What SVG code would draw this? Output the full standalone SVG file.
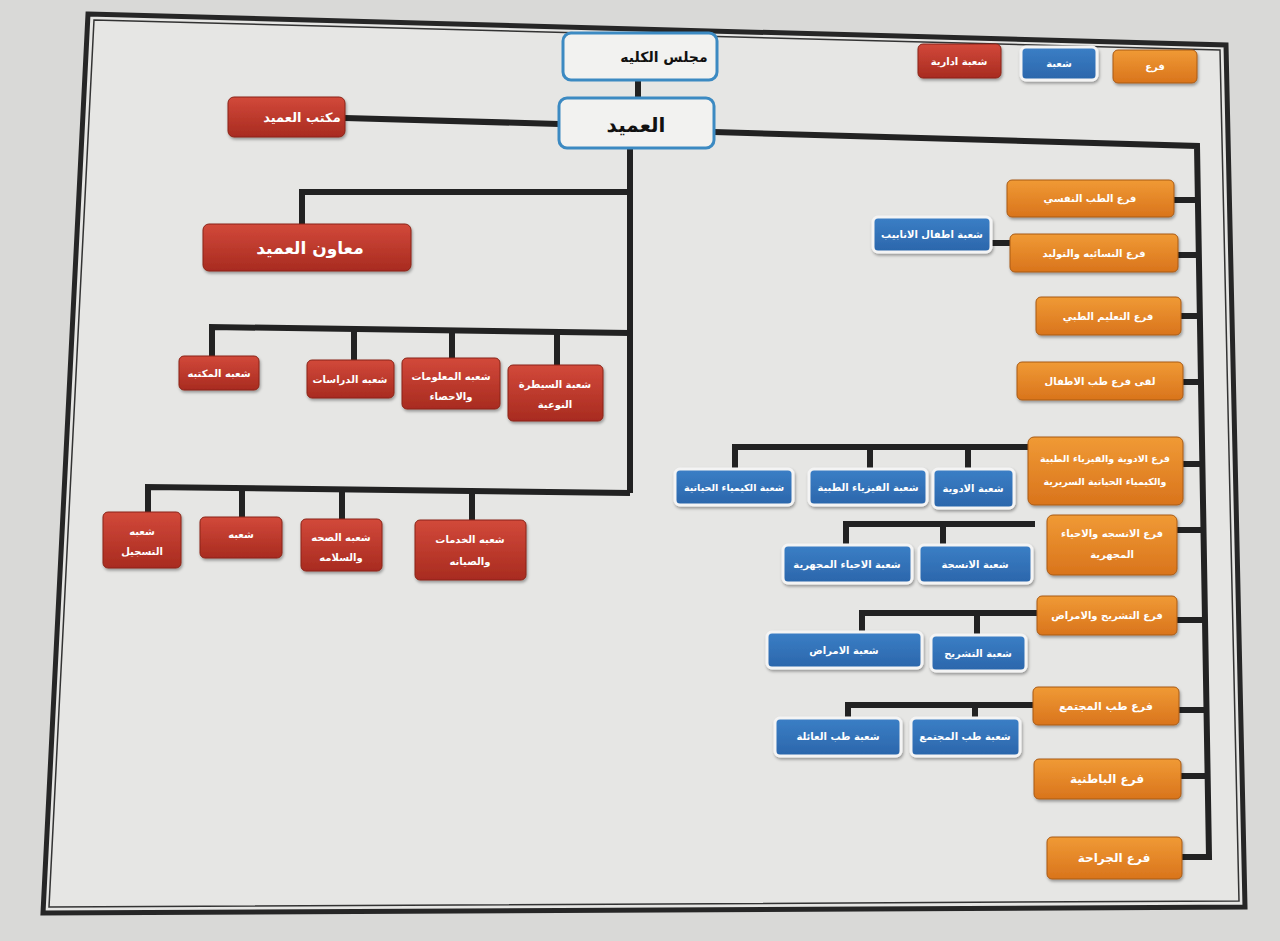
<svg xmlns="http://www.w3.org/2000/svg" width="1280" height="941" viewBox="0 0 1280 941">
<defs>
<linearGradient id="gr" x1="0" y1="0" x2="0" y2="1"><stop offset="0" stop-color="#d2493a"/><stop offset="1" stop-color="#a82b20"/></linearGradient>
<linearGradient id="go" x1="0" y1="0" x2="0" y2="1"><stop offset="0" stop-color="#f09a35"/><stop offset="1" stop-color="#d9741c"/></linearGradient>
<linearGradient id="gb" x1="0" y1="0" x2="0" y2="1"><stop offset="0" stop-color="#3b7fc6"/><stop offset="1" stop-color="#2b66ab"/></linearGradient>
<filter id="sh" x="-10%" y="-10%" width="120%" height="130%"><feDropShadow dx="1" dy="2" stdDeviation="1.5" flood-color="#000" flood-opacity="0.35"/></filter>
</defs>
<style>
.red{fill:url(#gr);stroke:#8a2418;stroke-width:1;filter:url(#sh)}
.org{fill:url(#go);stroke:#a85a14;stroke-width:1;filter:url(#sh)}
.blu{fill:url(#gb);stroke:#f4f4f4;stroke-width:3;filter:url(#sh)}
.wht{fill:#f2f2f0;stroke:#3c8ac2;stroke-width:3}
.ln{fill:none;stroke:#222;stroke-width:6;stroke-linejoin:miter}
text{font-family:"DejaVu Sans","Noto Sans",sans-serif;font-weight:bold;text-anchor:middle}
.t{fill:#fff;font-size:11px}
.s{font-size:10px}
.tk{fill:#111}
</style>
<rect x="0" y="0" width="1280" height="941" fill="#d9d9d7"/>
<polygon points="88,14 1226,45 1245,907 43,913" fill="#e6e6e4" stroke="#262626" stroke-width="5"/>
<polygon points="94,20 1220,50 1239,901 49,907" fill="none" stroke="#333" stroke-width="1.5"/>

<g id="connectors">
<path class="ln" d="M638,80 V97"/>
<path class="ln" d="M345,118 L559,124"/>
<path class="ln" d="M630,148 V493"/>
<path class="ln" d="M630,192 H302 V225"/>
<path class="ln" d="M630,333 L212,327 V356"/>
<path class="ln" d="M354,329 V360"/>
<path class="ln" d="M452,330 V358"/>
<path class="ln" d="M557,332 V365"/>
<path class="ln" d="M630,493 L148,487 V512"/>
<path class="ln" d="M242,488 V517"/>
<path class="ln" d="M342,489 V519"/>
<path class="ln" d="M472,491 V520"/>
<path class="ln" d="M714,132 L1197,146 L1209,857 H1182"/>
<path class="ln" d="M1174,200 H1198"/>
<path class="ln" d="M1178,255 H1199"/>
<path class="ln" d="M991,243 H1010"/>
<path class="ln" d="M1181,316 H1200"/>
<path class="ln" d="M1183,382 H1201"/>
<path class="ln" d="M1183,464 H1202"/>
<path class="ln" d="M1028,447 H735 V470"/>
<path class="ln" d="M870,447 V470"/>
<path class="ln" d="M968,447 V470"/>
<path class="ln" d="M1177,530 H1203"/>
<path class="ln" d="M1035,524 H846 V545"/>
<path class="ln" d="M943,524 V545"/>
<path class="ln" d="M1177,620 H1205"/>
<path class="ln" d="M1037,613 H862 V632"/>
<path class="ln" d="M977,613 V635"/>
<path class="ln" d="M1179,710 H1206"/>
<path class="ln" d="M1033,705 H848 V718"/>
<path class="ln" d="M975,705 V718"/>
<path class="ln" d="M1181,776 H1207"/>
</g>

<g id="legend-admin"><rect class="red" x="918" y="44" width="83" height="34" rx="5"/><text class="t s" x="959" y="65">شعبة ادارية</text></g>
<g id="legend-div"><rect class="blu" x="1021" y="47" width="76" height="33" rx="5"/><text class="t s" x="1059" y="67">شعبة</text></g>
<g id="legend-branch"><rect class="org" x="1113" y="50" width="84" height="33" rx="5"/><text class="t s" x="1155" y="70">فرع</text></g>

<g id="council"><rect class="wht" x="563" y="33" width="154" height="47" rx="8"/><text class="tk" x="664" y="62" style="font-size:14px">مجلس الكليه</text></g>
<g id="dean"><rect class="wht" x="559" y="98" width="155" height="50" rx="8"/><text class="tk" x="636" y="132" style="font-size:20px">العميد</text></g>
<g id="dean-office"><rect class="red" x="228" y="97" width="117" height="40" rx="6"/><text class="t" x="302" y="122" style="font-size:13px">مكتب العميد</text></g>
<g id="assistant-dean"><rect class="red" x="203" y="224" width="208" height="47" rx="6"/><text class="t" x="310" y="254" style="font-size:17px">معاون العميد</text></g>

<g id="library"><rect class="red" x="179" y="356" width="80" height="34" rx="5"/><text class="t s" x="219" y="377">شعبه المكتبه</text></g>
<g id="studies"><rect class="red" x="307" y="360" width="87" height="38" rx="5"/><text class="t s" x="350" y="383">شعبه الدراسات</text></g>
<g id="info-stats"><rect class="red" x="402" y="358" width="98" height="51" rx="5"/><text class="t s" x="451" y="380">شعبه المعلومات</text><text class="t s" x="451" y="400">والاحصاء</text></g>
<g id="quality"><rect class="red" x="508" y="365" width="95" height="56" rx="5"/><text class="t s" x="555" y="388">شعبة السيطرة</text><text class="t s" x="555" y="408">النوعية</text></g>

<g id="registration"><rect class="red" x="103" y="512" width="78" height="56" rx="5"/><text class="t s" x="142" y="535">شعبه</text><text class="t s" x="142" y="555">التسجيل</text></g>
<g id="section"><rect class="red" x="200" y="517" width="82" height="41" rx="5"/><text class="t s" x="241" y="538">شعبه</text></g>
<g id="health-safety"><rect class="red" x="301" y="519" width="81" height="52" rx="5"/><text class="t s" x="341" y="541">شعبه الصحه</text><text class="t s" x="341" y="561">والسلامه</text></g>
<g id="services"><rect class="red" x="415" y="520" width="111" height="60" rx="5"/><text class="t s" x="470" y="543">شعبه الخدمات</text><text class="t s" x="470" y="565">والصيانه</text></g>

<g id="psychiatry"><rect class="org" x="1007" y="180" width="167" height="37" rx="5"/><text class="t s" x="1090" y="202">فرع الطب النفسي</text></g>
<g id="ivf"><rect class="blu" x="873" y="217" width="118" height="35" rx="5"/><text class="t s" x="932" y="238">شعبة اطفال الانابيب</text></g>
<g id="obgyn"><rect class="org" x="1010" y="234" width="168" height="38" rx="5"/><text class="t s" x="1094" y="257">فرع النسائيه والتوليد</text></g>
<g id="med-edu"><rect class="org" x="1036" y="297" width="145" height="38" rx="5"/><text class="t s" x="1108" y="320">فرع التعليم الطبي</text></g>
<g id="pediatrics"><rect class="org" x="1017" y="362" width="166" height="38" rx="5"/><text class="t s" x="1100" y="385">لقى فرع طب الاطفال</text></g>

<g id="pharm-branch"><rect class="org" x="1028" y="437" width="155" height="68" rx="6"/><text class="t" x="1105" y="462" style="font-size:9.5px">فرع الادوية والفيزياء الطبية</text><text class="t" x="1105" y="485" style="font-size:9.5px">والكيمياء الحياتية السريرية</text></g>
<g id="biochem"><rect class="blu" x="675" y="469" width="118" height="36" rx="5"/><text class="t" x="734" y="491" style="font-size:9.5px">شعبة الكيمياء الحياتية</text></g>
<g id="physics"><rect class="blu" x="809" y="469" width="118" height="36" rx="5"/><text class="t s" x="868" y="491">شعبة الفيزياء الطبية</text></g>
<g id="pharma"><rect class="blu" x="933" y="469" width="81" height="39" rx="5"/><text class="t s" x="973" y="492">شعبة الادوية</text></g>

<g id="histo-branch"><rect class="org" x="1047" y="515" width="130" height="60" rx="6"/><text class="t s" x="1112" y="537">فرع الانسجه والاحياء</text><text class="t s" x="1112" y="558">المجهرية</text></g>
<g id="micro"><rect class="blu" x="783" y="545" width="129" height="38" rx="5"/><text class="t s" x="847" y="568">شعبة الاحياء المجهرية</text></g>
<g id="histo"><rect class="blu" x="919" y="545" width="113" height="38" rx="5"/><text class="t s" x="975" y="568">شعبة الانسجة</text></g>

<g id="anat-branch"><rect class="org" x="1037" y="596" width="140" height="39" rx="5"/><text class="t s" x="1107" y="619">فرع التشريح والامراض</text></g>
<g id="pathology"><rect class="blu" x="767" y="632" width="155" height="36" rx="5"/><text class="t s" x="844" y="654">شعبة  الامراض</text></g>
<g id="anatomy"><rect class="blu" x="931" y="635" width="95" height="36" rx="5"/><text class="t s" x="978" y="657">شعبة التشريح</text></g>

<g id="community-branch"><rect class="org" x="1033" y="687" width="146" height="38" rx="5"/><text class="t" x="1106" y="710">فرع طب المجتمع</text></g>
<g id="family"><rect class="blu" x="775" y="718" width="126" height="38" rx="5"/><text class="t s" x="838" y="740">شعبة طب العائلة</text></g>
<g id="community"><rect class="blu" x="911" y="718" width="109" height="38" rx="5"/><text class="t s" x="965" y="740">شعبة طب المجتمع</text></g>

<g id="internal"><rect class="org" x="1034" y="759" width="147" height="40" rx="5"/><text class="t" x="1107" y="783" style="font-size:12px">فرع الباطنية</text></g>
<g id="surgery"><rect class="org" x="1047" y="837" width="135" height="42" rx="5"/><text class="t" x="1114" y="862" style="font-size:12px">فرع الجراحة</text></g>
</svg>
